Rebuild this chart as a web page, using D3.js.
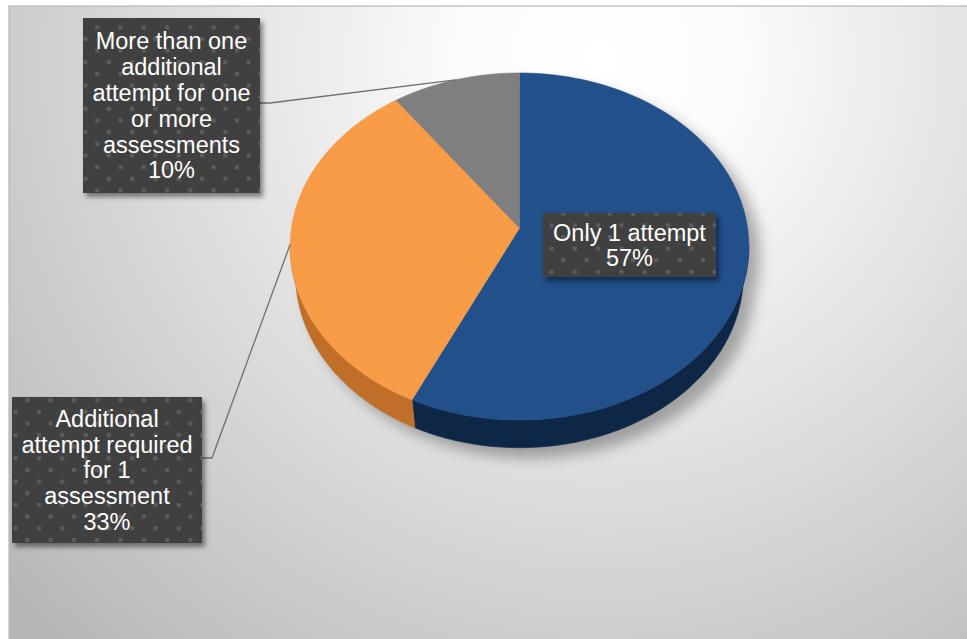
<!DOCTYPE html>
<html>
<head>
<meta charset="utf-8">
<script src="https://cdn.jsdelivr.net/npm/d3@7/dist/d3.min.js"></script>
<style>
  html, body { margin: 0; padding: 0; background: #ffffff; }
  svg { display: block; }
  text { font-family: "Liberation Sans", Arial, sans-serif; }
</style>
</head>
<body>
<svg id="chart" width="967" height="639"></svg>
<script>
// ---- data ----
const categories = [
  "Only 1 attempt",
  "Additional attempt required for 1 assessment",
  "More than one additional attempt for one or more assessments"
];
const values = [57, 33, 10];
const labelLines = [
  ["Only 1 attempt"],
  ["Additional", "attempt required", "for 1", "assessment"],
  ["More than one", "additional", "attempt for one", "or more", "assessments"]
];
const topColors  = ["#21508a", "#f99c47", "#7f7f7f"];
const sideColors = ["#0f2747", "#c06f2a", "#5e5e5e"];

// ---- layout ----
const W = 967, H = 639;
const svg = d3.select("#chart");
const defs = svg.append("defs");

// chart area background
const bg = defs.append("radialGradient").attr("id", "bgGrad")
  .attr("gradientUnits", "userSpaceOnUse")
  .attr("cx", 600).attr("cy", 60).attr("r", 800);
bg.append("stop").attr("offset", 0).attr("stop-color", "#ffffff");
bg.append("stop").attr("offset", 0.18).attr("stop-color", "#fbfbfb");
bg.append("stop").attr("offset", 1).attr("stop-color", "#b6b6b6");

svg.append("rect").attr("x", 9).attr("y", 6).attr("width", W).attr("height", H)
  .attr("fill", "url(#bgGrad)").attr("stroke", "#b8b8b8").attr("stroke-width", 1.2);

// label box pattern
const pat = defs.append("pattern").attr("id", "dots")
  .attr("patternUnits", "userSpaceOnUse")
  .attr("width", 23.3).attr("height", 23.3)
  .attr("x", 2).attr("y", 2);
pat.append("rect").attr("width", 23.3).attr("height", 23.3).attr("fill", "#404040");
pat.append("rect").attr("x", 0).attr("y", 0).attr("width", 4).attr("height", 4).attr("fill", "#5b5b5b");
pat.append("rect").attr("x", 11.65).attr("y", 11.65).attr("width", 4).attr("height", 4).attr("fill", "#5b5b5b");

const boxShadow = defs.append("filter").attr("id", "boxShadow")
  .attr("x", "-20%").attr("y", "-20%").attr("width", "140%").attr("height", "140%");
boxShadow.append("feDropShadow").attr("dx", 3).attr("dy", 4).attr("stdDeviation", 2.5)
  .attr("flood-color", "#000").attr("flood-opacity", 0.45);

const pieShadow = defs.append("filter").attr("id", "pieShadow")
  .attr("x", "-20%").attr("y", "-20%").attr("width", "140%").attr("height", "140%");
pieShadow.append("feGaussianBlur").attr("stdDeviation", 7);

// ---- 3D pie projection ----
// disk of radius R viewed from elevation phi with perspective distance D
const R = 1, D = 6.17, phi = 48.8 * Math.PI / 180, depthH = 0.2;
const cx = 519.5, cy = 228, k = 1407;
const cosP = Math.cos(phi), sinP = Math.sin(phi);

function proj(theta, r, Y) {
  const X = r * Math.sin(theta), Z = -r * Math.cos(theta);
  const depth = D - Y * sinP - Z * cosP;
  const up = Y * cosP - Z * sinP;
  return [cx + k * X / depth, cy - k * up / depth];
}
function arcPoints(a0, a1, Y) {
  const n = Math.max(2, Math.ceil(Math.abs(a1 - a0) / (Math.PI / 180)));
  return d3.range(n + 1).map(i => proj(a0 + (a1 - a0) * i / n, R, Y));
}
const line = d3.line();

const pie = d3.pie().sort(null).value(d => d);
const arcs = pie(values);
const total = d3.sum(values);
const pct = d3.format(".0%");

// visible rim lies between the two silhouette angles
const tMax = Math.acos(-R * cosP / D);
const visLo = tMax, visHi = 2 * Math.PI - tMax;

// shadow under the pie
const sh = svg.append("g").attr("filter", "url(#pieShadow)")
  .attr("transform", "translate(11,10)").attr("opacity", 0.3);
sh.append("path").attr("d", line(arcPoints(0, 2 * Math.PI, -depthH)) + "Z").attr("fill", "#000");
sh.append("path").attr("d", line(arcPoints(0, 2 * Math.PI, 0)) + "Z").attr("fill", "#000");

// side walls
const sides = svg.append("g");
arcs.forEach((a, i) => {
  const lo = Math.max(a.startAngle, visLo), hi = Math.min(a.endAngle, visHi);
  if (hi <= lo) return;
  const topPts = arcPoints(lo, hi, 0);
  const botPts = arcPoints(hi, lo, -depthH);
  sides.append("path").attr("d", line(topPts.concat(botPts)) + "Z")
    .attr("fill", sideColors[i]).attr("stroke", sideColors[i]).attr("stroke-width", 0.6);
});

// top faces
const tops = svg.append("g");
arcs.forEach((a, i) => {
  const pts = [proj(0, 0, 0)].concat(arcPoints(a.startAngle, a.endAngle, 0));
  tops.append("path").attr("d", line(pts) + "Z")
    .attr("fill", topColors[i]).attr("stroke", topColors[i]).attr("stroke-width", 0.6);
});

// ---- labels ----
const fontSize = 23.5, lineH = 25.8;
const boxes = [
  { x: 543, y: 213, w: 173, h: 64, leader: null },
  { x: 12,  y: 397, w: 190, h: 146, leader: { y: 458 } },
  { x: 83,  y: 18,  w: 177, h: 175, leader: { y: 103 } }
];

const leaders = svg.append("g");
const labels = svg.append("g");

arcs.forEach((a, i) => {
  const b = boxes[i];
  if (b.leader) {
    const mid = (a.startAngle + a.endAngle) / 2;
    const end = proj(mid, R, 0);
    const x0 = b.x + b.w;
    leaders.append("path")
      .attr("d", line([[x0, b.leader.y], [x0 + 10, b.leader.y], end]))
      .attr("fill", "none").attr("stroke", "#707070").attr("stroke-width", 1.3);
  }
  const g = labels.append("g");
  g.append("rect").attr("x", b.x).attr("y", b.y).attr("width", b.w).attr("height", b.h)
    .attr("fill", "url(#dots)").attr("filter", "url(#boxShadow)");
  const lines = labelLines[i].concat([pct(values[i] / total)]);
  const n = lines.length;
  const firstBase = b.y + b.h / 2 - (n - 1) * lineH / 2 + fontSize * 0.36;
  g.append("text")
    .attr("text-anchor", "middle")
    .attr("font-size", fontSize)
    .attr("fill", "#ffffff")
    .selectAll("tspan").data(lines).join("tspan")
    .attr("x", b.x + b.w / 2)
    .attr("y", (d, j) => firstBase + j * lineH)
    .text(d => d);
});
</script>
</body>
</html>
